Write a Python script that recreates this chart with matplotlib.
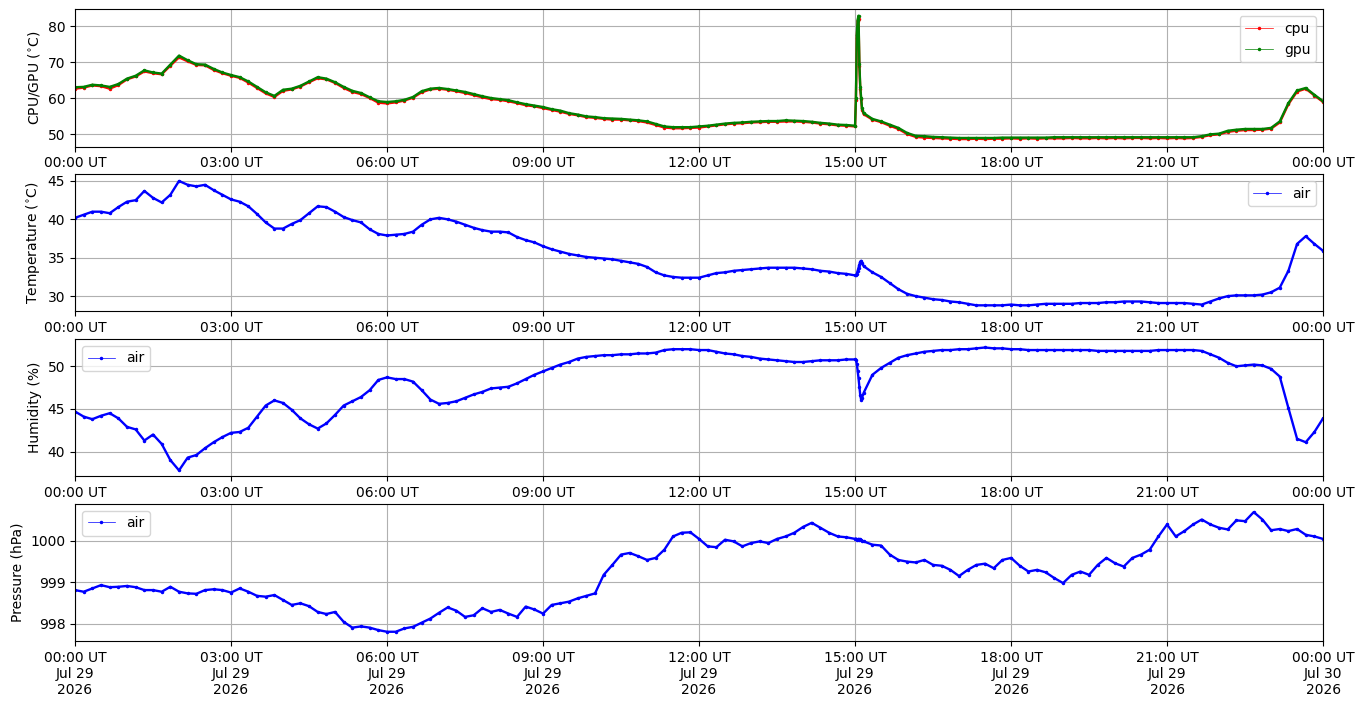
import datetime as dt

import matplotlib

matplotlib.use("Agg")
import matplotlib.dates as mdates
import matplotlib.pyplot as plt

# sample times in minutes after 2026-07-29 00:00 UT (1-min steps around the 15:00 spike)
minutes = [*range(0, 901, 10), *range(901, 909), *range(910, 1441, 10)]

cpu = [
    62.6, 62.9, 63.5, 63.3, 62.6, 63.6,
    65.2, 66.0, 67.4, 66.9, 66.6, 69.0,
    71.3, 70.2, 69.2, 69.1, 67.8, 66.9,
    66.2, 65.6, 64.3, 62.8, 61.3, 60.3,
    62.0, 62.4, 63.2, 64.4, 65.5, 65.2,
    64.2, 62.8, 61.7, 61.1, 60.0, 58.7,
    58.5, 58.8, 59.3, 60.1, 61.6, 62.4,
    62.6, 62.3, 61.9, 61.4, 60.8, 60.2,
    59.7, 59.5, 59.1, 58.6, 58.0, 57.7,
    57.2, 56.7, 56.2, 55.6, 55.2, 54.7,
    54.5, 54.2, 54.0, 54.0, 53.8, 53.6,
    53.2, 52.5, 51.8, 51.6, 51.6, 51.7,
    51.8, 52.1, 52.4, 52.7, 52.9, 53.0,
    53.2, 53.3, 53.4, 53.4, 53.5, 53.5,
    53.4, 53.2, 52.9, 52.7, 52.4, 52.3,
    52.1, 59.5, 76.8, 81.5, 82.0, 68.8, 62.6, 59.6, 56.8, 55.5, 54.0, 53.3, 52.3, 51.4,
    50.0, 49.2, 49.0, 48.9, 48.8, 48.7,
    48.6, 48.6, 48.7, 48.6, 48.7, 48.7,
    48.8, 48.7, 48.8, 48.7, 48.8, 48.8,
    48.8, 48.9, 48.8, 48.8, 48.9, 48.8,
    48.9, 48.8, 48.9, 48.9, 48.8, 48.9,
    48.8, 48.9, 48.8, 48.9, 49.2, 49.7,
    49.9, 50.6, 50.9, 51.1, 51.1, 51.2,
    51.5, 53.2, 58.3, 61.8, 62.6, 60.7,
    58.9,
]

gpu = [
    63.0, 63.1, 63.7, 63.5, 63.1, 63.9,
    65.4, 66.2, 67.7, 67.1, 66.8, 69.3,
    71.8, 70.5, 69.4, 69.3, 68.1, 67.1,
    66.4, 65.8, 64.6, 63.1, 61.6, 60.6,
    62.3, 62.6, 63.4, 64.6, 65.8, 65.4,
    64.4, 63.1, 62.0, 61.4, 60.2, 59.1,
    58.9, 59.1, 59.5, 60.3, 61.9, 62.6,
    62.8, 62.5, 62.1, 61.7, 61.1, 60.5,
    60.0, 59.7, 59.4, 58.8, 58.3, 57.9,
    57.5, 56.9, 56.5, 55.8, 55.4, 54.9,
    54.7, 54.4, 54.3, 54.2, 54.0, 53.8,
    53.5, 52.8, 52.1, 51.9, 51.9, 51.9,
    52.1, 52.3, 52.6, 52.9, 53.1, 53.2,
    53.4, 53.5, 53.6, 53.6, 53.8, 53.7,
    53.6, 53.4, 53.1, 52.9, 52.6, 52.5,
    52.3, 60.0, 77.6, 81.8, 82.9, 69.5, 63.2, 60.0, 57.2, 55.8, 54.2, 53.5, 52.6, 51.7,
    50.3, 49.5, 49.4, 49.2, 49.1, 49.0,
    48.9, 48.9, 48.9, 48.9, 48.9, 49.0,
    49.0, 49.0, 49.0, 49.0, 49.0, 49.1,
    49.1, 49.1, 49.1, 49.1, 49.1, 49.1,
    49.1, 49.1, 49.1, 49.1, 49.1, 49.1,
    49.1, 49.1, 49.1, 49.1, 49.4, 49.9,
    50.1, 50.9, 51.2, 51.4, 51.4, 51.4,
    51.7, 53.5, 58.6, 62.1, 62.8, 60.9,
    59.1,
]

temp_air = [
    40.2, 40.6, 41.0, 41.0, 40.8, 41.6,
    42.3, 42.5, 43.7, 42.8, 42.2, 43.2,
    45.0, 44.5, 44.3, 44.5, 43.8, 43.2,
    42.6, 42.3, 41.7, 40.7, 39.6, 38.8,
    38.8, 39.4, 39.9, 40.8, 41.7, 41.6,
    41.0, 40.3, 39.9, 39.6, 38.7, 38.1,
    37.9, 38.0, 38.1, 38.4, 39.3, 40.0,
    40.2, 40.0, 39.7, 39.3, 38.9, 38.6,
    38.4, 38.4, 38.3, 37.7, 37.3, 37.0,
    36.5, 36.1, 35.8, 35.5, 35.3, 35.1,
    35.0, 34.9, 34.8, 34.6, 34.4, 34.2,
    33.8, 33.1, 32.7, 32.5, 32.4, 32.4,
    32.4, 32.7, 33.0, 33.1, 33.3, 33.4,
    33.5, 33.6, 33.7, 33.7, 33.7, 33.7,
    33.6, 33.5, 33.3, 33.2, 33.0, 32.9,
    32.7, 32.7, 32.9, 33.3, 33.7, 34.1, 34.5, 34.6, 34.3, 33.9, 33.1, 32.5, 31.7, 30.9,
    30.3, 30.0, 29.8, 29.6, 29.5, 29.3,
    29.2, 29.0, 28.8, 28.8, 28.8, 28.8,
    28.9, 28.8, 28.8, 28.9, 29.0, 29.0,
    29.0, 29.0, 29.1, 29.1, 29.1, 29.2,
    29.2, 29.3, 29.3, 29.3, 29.2, 29.1,
    29.1, 29.1, 29.1, 29.0, 28.9, 29.3,
    29.7, 30.0, 30.1, 30.1, 30.1, 30.2,
    30.5, 31.1, 33.3, 36.8, 37.8, 36.8,
    35.9,
]

hum_air = [
    44.7, 44.1, 43.8, 44.2, 44.5, 43.9,
    42.9, 42.6, 41.3, 42.0, 40.9, 39.0,
    37.8, 39.3, 39.6, 40.4, 41.1, 41.7,
    42.2, 42.3, 42.8, 44.1, 45.4, 46.0,
    45.7, 44.9, 43.9, 43.2, 42.7, 43.3,
    44.3, 45.4, 45.9, 46.4, 47.2, 48.4,
    48.7, 48.5, 48.5, 48.2, 47.2, 46.1,
    45.6, 45.7, 45.9, 46.3, 46.7, 47.0,
    47.4, 47.5, 47.6, 48.0, 48.5, 49.0,
    49.4, 49.8, 50.2, 50.5, 50.9, 51.1,
    51.2, 51.3, 51.3, 51.4, 51.4, 51.5,
    51.5, 51.6, 51.9, 52.0, 52.0, 52.0,
    51.9, 51.9, 51.7, 51.5, 51.4, 51.2,
    51.1, 50.9, 50.8, 50.7, 50.6, 50.5,
    50.5, 50.6, 50.7, 50.7, 50.7, 50.8,
    50.8, 50.7, 50.3, 49.5, 48.6, 47.6, 46.6, 46.1, 46.3, 46.9, 49.0, 49.8, 50.4, 51.0,
    51.3, 51.5, 51.7, 51.8, 51.9, 51.9,
    52.0, 52.0, 52.1, 52.2, 52.1, 52.1,
    52.0, 52.0, 51.9, 51.9, 51.9, 51.9,
    51.9, 51.9, 51.9, 51.9, 51.8, 51.8,
    51.8, 51.8, 51.8, 51.8, 51.8, 51.9,
    51.9, 51.9, 51.9, 51.9, 51.8, 51.4,
    51.0, 50.4, 50.0, 50.1, 50.2, 50.1,
    49.7, 48.8, 45.1, 41.5, 41.1, 42.3,
    43.9,
]

press_air = [
    998.81, 998.77, 998.85, 998.93, 998.88, 998.89,
    998.91, 998.88, 998.81, 998.81, 998.77, 998.89,
    998.77, 998.73, 998.72, 998.81, 998.83, 998.81,
    998.75, 998.85, 998.77, 998.67, 998.65, 998.69,
    998.57, 998.45, 998.49, 998.42, 998.28, 998.23,
    998.28, 998.04, 997.90, 997.93, 997.90, 997.84,
    997.80, 997.80, 997.88, 997.92, 998.02, 998.12,
    998.26, 998.39, 998.31, 998.16, 998.20, 998.37,
    998.28, 998.33, 998.24, 998.16, 998.41, 998.34,
    998.24, 998.45, 998.49, 998.53, 998.61, 998.67,
    998.73, 999.18, 999.42, 999.67, 999.71, 999.63,
    999.54, 999.59, 999.79, 1000.11, 1000.20, 1000.21,
    1000.05, 999.87, 999.85, 1000.03, 999.99, 999.87,
    999.95, 999.99, 999.95, 1000.05, 1000.11, 1000.20,
    1000.34, 1000.44, 1000.32, 1000.20, 1000.11, 1000.09,
    1000.05, 1000.06, 1000.03, 1000.04, 1000.05, 1000.02, 1000.04, 1000.03, 1000.01,
    999.99, 999.91, 999.89, 999.67, 999.54,
    999.50, 999.48, 999.54, 999.42, 999.40, 999.30,
    999.15, 999.30, 999.42, 999.45, 999.34, 999.54,
    999.59, 999.40, 999.26, 999.30, 999.24, 999.10,
    998.98, 999.18, 999.26, 999.18, 999.42, 999.59,
    999.46, 999.38, 999.59, 999.67, 999.79, 1000.11,
    1000.40, 1000.11, 1000.24, 1000.40, 1000.52, 1000.40,
    1000.32, 1000.28, 1000.50, 1000.48, 1000.70, 1000.52,
    1000.26, 1000.29, 1000.24, 1000.29, 1000.15, 1000.11,
    1000.05,
]

for series in (cpu, gpu, temp_air, hum_air, press_air):
    assert len(series) == len(minutes), len(series)

start = dt.datetime(2026, 7, 29)
times = [start + dt.timedelta(minutes=m) for m in minutes]


def draw(ax, values, color, label):
    # dense band under the thin marker line, like the original 1-min samples
    ax.plot(times, values, color=color, linewidth=1.7, solid_capstyle="round")
    ax.plot(times, values, ".-", color=color, linewidth=0.5, markersize=3, label=label)


def style(ax, fmt):
    ax.set_xlim(start, start + dt.timedelta(days=1))
    ax.xaxis.set_major_locator(mdates.HourLocator(byhour=range(0, 24, 3)))
    ax.xaxis.set_major_formatter(mdates.DateFormatter(fmt))
    ax.grid(True)


fig, axes = plt.subplots(4, 1, figsize=(13.64, 7.07), dpi=100)
fig.subplots_adjust(left=0.055, right=0.970, top=0.987, bottom=0.093, hspace=0.2)
ax1, ax2, ax3, ax4 = axes

draw(ax1, cpu, "r", "cpu")
draw(ax1, gpu, "g", "gpu")
ax1.set_ylim(46.5, 84.7)
ax1.set_ylabel("CPU/GPU ($^{\\circ}$C)")
ax1.legend(loc="upper right")

draw(ax2, temp_air, "b", "air")
ax2.set_ylim(28.0, 45.9)
ax2.set_ylabel("Temperature ($^{\\circ}$C)")
ax2.legend(loc="upper right")

draw(ax3, hum_air, "b", "air")
ax3.set_ylim(37.1, 53.2)
ax3.set_ylabel("Humidity (%)")
ax3.legend(loc="upper left")

draw(ax4, press_air, "b", "air")
ax4.set_ylim(997.57, 1000.90)
ax4.set_ylabel("Pressure (hPa)")
ax4.legend(loc="upper left")
ax4.ticklabel_format(axis="y", useOffset=False)

for ax in (ax1, ax2, ax3):
    style(ax, "%H:%M UT")
style(ax4, "%H:%M UT\n%b %d\n%Y")
for lbl in ax4.get_xticklabels():
    lbl.set_horizontalalignment("center")

fig.savefig("out.png", dpi=100)
